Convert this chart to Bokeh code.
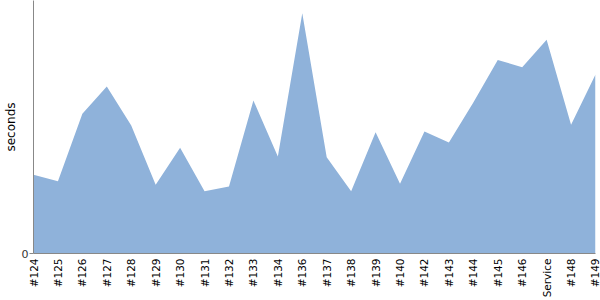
from bokeh.plotting import figure
from bokeh.models import Range1d, FixedTicker
from bokeh.embed import file_html
from bokeh.resources import INLINE
import math

categories = ["#124", "#125", "#126", "#127", "#128", "#129", "#130", "#131",
              "#132", "#133", "#134", "#136", "#137", "#138", "#139", "#140",
              "#142", "#143", "#144", "#145", "#146", "Service", "#148", "#149"]
seconds = [7.87, 7.23, 13.97, 16.7, 12.8, 6.87, 10.57, 6.23,
           6.7, 15.3, 9.7, 24.03, 9.63, 6.23, 12.13, 6.97,
           12.2, 11.1, 15.1, 19.35, 18.63, 21.37, 12.87, 17.9]
y_max = 25.3

xs = list(range(len(categories)))

p = figure(frame_width=562, frame_height=253, output_backend="svg", toolbar_location=None,
           x_range=Range1d(0, len(categories) - 1), y_range=Range1d(0, y_max),
           min_border_left=0, min_border_right=5, min_border_top=0, min_border_bottom=0)

p.varea(x=xs, y1=[0] * len(xs), y2=seconds, fill_color="#8fb2da", fill_alpha=1.0)

p.outline_line_color = None
p.xgrid.grid_line_color = None
p.ygrid.grid_line_color = None
p.background_fill_color = "white"
p.border_fill_color = "white"

xa = p.xaxis[0]
xa.ticker = FixedTicker(ticks=xs)
xa.major_label_overrides = {i: c for i, c in enumerate(categories)}
xa.major_label_orientation = math.pi / 2
xa.major_tick_line_color = None
xa.major_tick_in = 0
xa.major_tick_out = 0
xa.minor_tick_line_color = None
xa.axis_line_color = "#888888"
xa.major_label_text_font = "DejaVu Sans"
xa.major_label_text_font_size = "10.5px"
xa.major_label_text_color = "black"
xa.major_label_standoff = 5

ya = p.yaxis[0]
ya.ticker = FixedTicker(ticks=[0])
ya.major_tick_in = 0
ya.major_tick_out = 4
ya.major_tick_line_color = "#888888"
ya.minor_tick_line_color = None
ya.axis_line_color = "#888888"
ya.major_label_text_font = "DejaVu Sans"
ya.major_label_text_font_size = "11px"
ya.major_label_text_color = "#333333"
ya.major_label_standoff = 1
ya.axis_label = "seconds"
ya.axis_label_text_font = "DejaVu Sans"
ya.axis_label_text_font_size = "12px"
ya.axis_label_text_font_style = "normal"
ya.axis_label_text_color = "black"
ya.axis_label_standoff = 1

open("out.html", "w").write(file_html(p, INLINE))
